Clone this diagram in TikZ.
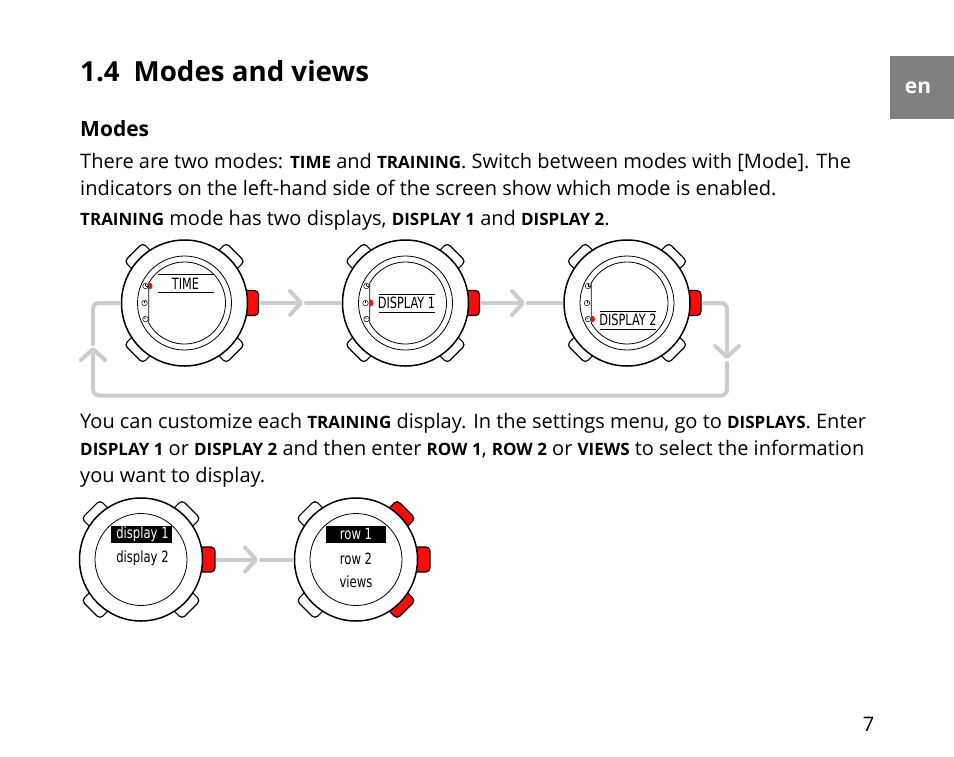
\documentclass[tikz,border=0pt]{standalone}
\usepackage{fontspec}
\usetikzlibrary{arrows.meta}
\setmainfont{Open Sans}
\newfontfamily\lcdcaps[FakeStretch=0.73]{DejaVu Sans}
\newfontfamily\lcdfont[FakeStretch=0.75]{DejaVu Sans}
\definecolor{flowgray}{gray}{0.8}
\definecolor{tabgray}{gray}{0.5}
\definecolor{keyred}{RGB}{255,10,10}
\newcommand{\kw}[1]{{\fontsize{17}{18}\selectfont\bfseries #1}}
\tikzset{
  para/.style={anchor=base west,inner sep=0pt,font=\fontsize{20}{24}\selectfont},
  face/.style={circle,draw,line width=1.5pt,fill=white,inner sep=0pt},
  ring/.style={circle,draw,line width=.8pt,inner sep=0pt},
  lug/.style={draw,line width=1.2pt,fill=white,rounded corners=4pt,minimum width=23pt,minimum height=26pt,inner sep=0pt},
  keybtn/.style={draw,line width=1.2pt,fill=keyred,rounded corners=4pt,minimum width=16pt,minimum height=25pt,inner sep=0pt},
  icon/.style={circle,draw,line width=.5pt,minimum size=5.5pt,inner sep=0pt},
  lcd/.style={inner sep=0pt,font=\fontsize{15.5}{17}\lcdfont},
  lcdup/.style={inner sep=0pt,font=\fontsize{15.5}{17}\lcdcaps},
  link/.style={draw=flowgray,line width=4pt,line cap=round,rounded corners=6pt,shorten >=2pt},
  flow/.style={link,shorten >=0pt,shorten <=2pt,-{Straight Barb[length=11pt,width=24pt,round]}},
}
\begin{document}
\begin{tikzpicture}[x=1pt,y=-1pt]
  \useasboundingbox (0,0) rectangle (954,756);
  % page text
  \node[anchor=base west,inner sep=0pt,font=\fontsize{27.7}{32}\selectfont\bfseries] (title) at (80,81) {1.4\hspace{14pt}Modes and views};
  \node[anchor=base west,inner sep=0pt,font=\fontsize{21}{24}\selectfont\bfseries] (modes) at (80,136) {Modes};
  \node[para] (l1) at (80,168) {There are two modes: \kw{TIME} and \kw{TRAINING}. Switch between modes with [Mode]. The};
  \node[para] (l2) at (80,195) {indicators on the left-hand side of the screen show which mode is enabled.};
  \node[para] (l3) at (80,225) {\kw{TRAINING} mode has two displays, \kw{DISPLAY 1} and \kw{DISPLAY 2}.};
  \node[para] (l4) at (80,428) {You can customize each \kw{TRAINING} display. In the settings menu, go to \kw{DISPLAYS}. Enter};
  \node[para] (l5) at (80,455) {\kw{DISPLAY 1} or \kw{DISPLAY 2} and then enter \kw{ROW 1}, \kw{ROW 2} or \kw{VIEWS} to select the information};
  \node[para] (l6) at (80,482) {you want to display.};
  \node[fill=tabgray,minimum width=64pt,minimum height=63pt,inner sep=0pt] (tab) at (922,87.5) {};
  \node[text=white,font=\fontsize{21}{24}\selectfont\bfseries,inner sep=0pt] (lang) at (918,87.5) {en};
  \node[font=\fontsize{20}{24}\selectfont,inner sep=0pt] (pageno) at (868.5,724) {7};
  % upper row of watches
  \foreach \n/\cx/\iy/\ty/\lbl in {wa/184.5/-17/-19.5/TIME,wb/405.5/0/0/DISPLAY 1,wc/627/16/17/DISPLAY 2}{
    \node[keybtn] (\n-btn) at (\cx+66,303) {};
    \foreach \a in {45,135,225,315}
      \node[lug,rotate=-\a] at ([shift={(\a:60.5)}]\cx,303) {};
    \node[face,minimum size=126pt] (\n) at (\cx,303) {};
    \node[ring,minimum size=94pt] (\n-bezel) at (\cx,303) {};
    \draw[line width=.8pt] (\cx,303) ++(150.8:41) arc[start angle=150.8,end angle=-150.8,radius=41] -- cycle;
    \node[icon] (\n-ia) at (\cx-39,286) {};
    \node[icon] (\n-ib) at (\cx-40,303) {};
    \node[icon] (\n-ic) at (\cx-39,319) {};
    \draw[line width=.4pt] (\n-ia.center)--+(0,-2)(\n-ia.center)--+(2,0);
    \draw[line width=.4pt] (\n-ib.center)--+(0,-2);
    \draw[line width=.4pt] (\n-ic.center)--+(-1.5,-1.5);
    \fill[keyred] (\cx-35.5,303+\iy-3.5) arc[start angle=-90,end angle=90,radius=3.5] -- cycle;
    \draw[line width=.9pt] (\cx-27,303+\ty-9)--(\cx+29,303+\ty-9);
    \draw[line width=.9pt] (\cx-27,303+\ty+9)--(\cx+29,303+\ty+9);
    \node[lcdup] (\n-txt) at (\cx+1,303+\ty) {\lbl};
  }
  \coordinate (ta) at (303,303);\coordinate (ga) at (306,303);
  \coordinate (tb) at (525,303);\coordinate (gb) at (528,303);
  \coordinate (tc) at (727,359);\coordinate (gc) at (727,361);
  \coordinate (td) at (93,347);\coordinate (gd) at (93,344);
  \draw[flow] (wa-btn.east)--(ta);
  \draw[link] (ga)--(wb.west);
  \draw[flow] (wb-btn.east)--(tb);
  \draw[link] (gb)--(wc.west);
  \draw[flow] (wc-btn.east)-|(tc);
  \draw[flow] (gc)|-(93,395.5)--(td);
  \draw[link] (gd)|-(wa.west);
  % lower row of watches
  \foreach \n/\cx/\lc in {wd/141/white,we/356/keyred}{
    \node[keybtn] (\n-btn) at (\cx+66,559.5) {};
    \foreach \a/\f in {45/\lc,135/white,225/white,315/\lc}
      \node[lug,rotate=-\a,fill=\f] at ([shift={(\a:59.5)}]\cx,559.5) {};
    \node[face,minimum size=123pt] (\n) at (\cx,559.5) {};
    \node[ring,minimum size=92pt] (\n-bezel) at (\cx,559.5) {};
  }
  \node[fill=black,minimum width=60.5pt,minimum height=17pt,inner sep=0pt] (dsel) at (141.5,534) {};
  \node[lcd,text=white] (da) at (142.5,534) {display 1};
  \node[lcd] (db) at (142.5,558.5) {display 2};
  \node[fill=black,minimum width=60pt,minimum height=17pt,inner sep=0pt] (rsel) at (356,534) {};
  \node[lcd,text=white] (ra) at (356,534) {row 1};
  \node[lcd] (rb) at (356,558.5) {row 2};
  \node[lcd] (rc) at (356,582) {views};
  \coordinate (te) at (258,559.5);\coordinate (ge) at (261,559.5);
  \draw[flow] (wd-btn.east)--(te);
  \draw[link] (ge)--(we.west);
\end{tikzpicture}
\end{document}
